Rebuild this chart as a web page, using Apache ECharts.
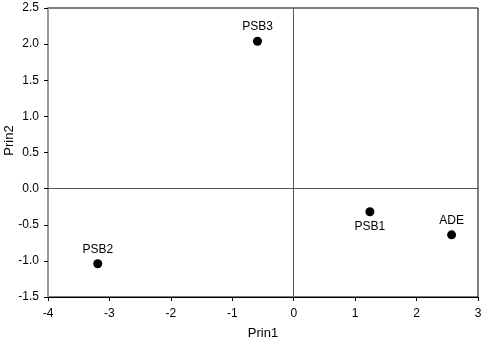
<!DOCTYPE html>
<html><head><meta charset="utf-8">
<script src="https://cdn.jsdelivr.net/npm/echarts@6/dist/echarts.min.js"></script>
<style>html,body{margin:0;padding:0;background:#fff}#c{width:487px;height:345px}</style>
</head><body><div id="c"></div>
<script>
const names = ['PSB3', 'PSB2', 'PSB1', 'ADE'];
const prin1 = [-0.59, -3.19, 1.24, 2.57];
const prin2 = [2.04, -1.04, -0.32, -0.64];
const labelPos = ['top', 'top', 'bottom', 'top'];

const chart = echarts.init(document.getElementById('c'));
const font = 'Liberation Sans, Arial, sans-serif';
chart.setOption({
  animation: false,
  grid: {left: 48, right: 9, top: 8, bottom: 48, show: true, borderColor: '#000', borderWidth: 1,
    containLabel: false, outerBoundsMode: 'none'},
  xAxis: {
    type: 'value', min: -4, max: 3, interval: 1,
    name: 'Prin1', nameLocation: 'middle', nameGap: 30, nameMoveOverlap: false,
    nameTextStyle: {fontFamily: font, fontSize: 13, color: '#000'},
    axisLine: {onZero: false, lineStyle: {color: '#000', width: 1}},
    axisTick: {show: true, length: 4, inside: false, lineStyle: {color: '#000'}},
    axisLabel: {fontFamily: font, fontSize: 12, color: '#000', margin: 11},
    splitLine: {show: false}
  },
  yAxis: {
    type: 'value', min: -1.5, max: 2.5, interval: 0.5,
    name: 'Prin2', nameLocation: 'middle', nameGap: 32, nameRotate: 90, nameMoveOverlap: false,
    nameTextStyle: {fontFamily: font, fontSize: 13, color: '#000', padding: [0, 0, 0, 24]},
    axisLine: {onZero: false, lineStyle: {color: '#999', width: 2}},
    axisTick: {show: true, length: 4, inside: false, lineStyle: {color: '#000'}},
    axisLabel: {fontFamily: font, fontSize: 12, color: '#000', margin: 9,
      formatter: v => v.toFixed(1)},
    splitLine: {show: false}
  },
  series: [{
    type: 'scatter',
    symbolSize: 9,
    itemStyle: {color: '#000', opacity: 1},
    data: names.map((n, i) => ({
      value: [prin1[i], prin2[i]], name: n,
      label: {show: true, position: labelPos[i], formatter: n, distance: 4,
        fontFamily: font, fontSize: 12, color: '#000'}
    })),
    markLine: {
      silent: true, symbol: 'none', label: {show: false},
      lineStyle: {color: '#555', width: 1, type: 'solid', opacity: 1},
      data: [{xAxis: 0}, {yAxis: 0}]
    }
  }]
});
</script></body></html>
